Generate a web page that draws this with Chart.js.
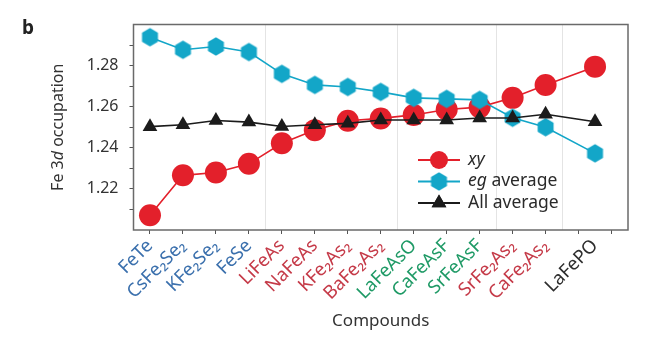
<!DOCTYPE html>
<html>
<head>
<meta charset="utf-8">
<script src="https://cdn.jsdelivr.net/npm/chart.js@4.4.1/dist/chart.umd.min.js"></script>
<style>
  html, body { margin: 0; padding: 0; background: #fff; }
  #wrap { width: 660px; height: 338px; position: relative; }
</style>
</head>
<body>
<div id="wrap"><canvas id="occChart"></canvas></div>
<script>
// compounds and where they sit on the x axis (LaFePO is set apart)
const compounds = ['FeTe', 'CsFe₂Se₂', 'KFe₂Se₂', 'FeSe', 'LiFeAs', 'NaFeAs', 'KFe₂As₂', 'BaFe₂As₂',
                   'LaFeAsO', 'CaFeAsF', 'SrFeAsF', 'SrFe₂As₂', 'CaFe₂As₂', 'LaFePO'];
const positions = [0, 1, 2, 3, 4, 5, 6, 7, 8, 9, 10, 11, 12, 13.5];
const groups = ['se', 'se', 'se', 'se', 'as', 'as', 'as', 'as', 'f', 'f', 'f', 'as', 'as', 'p'];

// Fe 3d occupation values
const xyValues  = [1.2072, 1.2266, 1.2280, 1.2322, 1.2422, 1.2486, 1.2532, 1.2543, 1.2560, 1.2586, 1.2598, 1.2643, 1.2706, 1.2795];
const egValues  = [1.2938, 1.2877, 1.2893, 1.2866, 1.2760, 1.2706, 1.2696, 1.2672, 1.2643, 1.2638, 1.2633, 1.2546, 1.2500, 1.2373];
const allValues = [1.2503, 1.2512, 1.2533, 1.2525, 1.2504, 1.2512, 1.2519, 1.2535, 1.2535, 1.2535, 1.2545, 1.2545, 1.2563, 1.2527];

// axis ticks
const xTicks = [0, 1, 2, 3, 4, 5, 6, 7, 8, 9, 10, 11, 12, 13, 14];
const separators = [3.5, 7.5, 10.5, 12.5];
const yTicks = [1.21, 1.22, 1.23, 1.24, 1.25, 1.26, 1.27, 1.28, 1.29];
const yLabels = ['1.22', '1.24', '1.26', '1.28'];

const groupColors = { se: '#3b70ad', as: '#c53a48', f: '#1f9a66', p: '#2e2e2e' };
const RED = '#e3202b', CYAN = '#13a6c8', BLACK = '#1b1b1b';
const FONT = '"Noto Sans", "DejaVu Sans", sans-serif';

function hexagon(r, color) {
  const c = document.createElement('canvas');
  const s = Math.ceil(r * 2) + 2;
  c.width = s; c.height = s;
  const g = c.getContext('2d');
  g.fillStyle = color;
  g.beginPath();
  for (let i = 0; i < 6; i++) {
    const a = Math.PI / 3 * i - Math.PI / 2;
    const px = s / 2 + r * Math.cos(a), py = s / 2 + r * Math.sin(a);
    i ? g.lineTo(px, py) : g.moveTo(px, py);
  }
  g.closePath();
  g.fill();
  return c;
}
const hexMark = hexagon(9.2, CYAN);

const toPoints = vals => vals.map((v, i) => ({ x: positions[i], y: v }));
const labelAt = v => {
  const i = positions.indexOf(v);
  return i >= 0 ? compounds[i] : '';
};
const allXTicks = [...new Set([...xTicks, ...separators, ...positions])].sort((a, b) => a - b);

// frame, axis titles, panel letter and the legend inside the plot
const decorations = {
  id: 'decorations',
  beforeDatasetsDraw(chart) {
    const { ctx, chartArea: a } = chart;
    ctx.save();
    ctx.strokeStyle = '#6a6a6a';
    ctx.lineWidth = 1.5;
    ctx.strokeRect(a.left, a.top, a.right - a.left, a.bottom - a.top);
    ctx.restore();
  },
  afterDraw(chart) {
    const { ctx, chartArea: a } = chart;
    ctx.save();
    ctx.fillStyle = '#222';
    ctx.font = 'bold 19px ' + FONT;
    ctx.textBaseline = 'alphabetic';
    ctx.fillText('b', 22, 34);

    // y title with italic d
    ctx.fillStyle = '#333';
    ctx.translate(58, (a.top + a.bottom) / 2);
    ctx.rotate(-Math.PI / 2);
    ctx.textBaseline = 'middle';
    const parts = [['Fe 3', 'normal'], ['d', 'italic'], [' occupation', 'normal']];
    let w = 0;
    parts.forEach(([t, s]) => { ctx.font = s + ' 16px ' + FONT; w += ctx.measureText(t).width; });
    let x = -w / 2;
    parts.forEach(([t, s]) => { ctx.font = s + ' 16px ' + FONT; ctx.fillText(t, x, 0); x += ctx.measureText(t).width; });
    ctx.restore();

    ctx.save();
    ctx.fillStyle = '#333';
    ctx.font = '17px ' + FONT;
    ctx.textAlign = 'center';
    ctx.textBaseline = 'middle';
    ctx.fillText('Compounds', (a.left + a.right) / 2, 321);
    ctx.restore();

    // legend
    const rows = [
      { ds: 0, text: [['xy', 'italic']] },
      { ds: 1, text: [['eg', 'italic'], [' average', 'normal']] },
      { ds: 2, text: [['All average', 'normal']] }
    ];
    ctx.save();
    rows.forEach((row, k) => {
      const ds = chart.data.datasets[row.ds];
      const y = 160 + k * 21.5;
      ctx.strokeStyle = ds.borderColor;
      ctx.lineWidth = 1.8;
      ctx.beginPath(); ctx.moveTo(418, y); ctx.lineTo(460, y); ctx.stroke();
      if (ds.pointStyle === 'circle') {
        ctx.fillStyle = ds.backgroundColor;
        ctx.beginPath(); ctx.arc(439, y, 9, 0, Math.PI * 2); ctx.fill();
      } else if (ds.pointStyle === 'triangle') {
        Chart.helpers.drawPoint(ctx, { pointStyle: 'triangle', radius: 8.5, borderWidth: 0 }, 439, y);
        ctx.fillStyle = ds.backgroundColor; ctx.fill();
      } else {
        ctx.drawImage(ds.pointStyle, 439 - ds.pointStyle.width / 2, y - ds.pointStyle.height / 2);
      }
      ctx.fillStyle = '#2a2a2a';
      ctx.textBaseline = 'middle';
      let tx = 468;
      row.text.forEach(([t, s]) => {
        ctx.font = s + ' 17.5px ' + FONT;
        ctx.fillText(t, tx, y);
        tx += ctx.measureText(t).width;
      });
    });
    ctx.restore();
  }
};

new Chart(document.getElementById('occChart'), {
  type: 'line',
  data: {
    datasets: [
      { label: 'xy', data: toPoints(xyValues), borderColor: RED, backgroundColor: RED,
        pointStyle: 'circle', pointRadius: 11, pointBorderWidth: 0, borderWidth: 1.6, order: 3 },
      { label: 'eg average', data: toPoints(egValues), borderColor: CYAN, backgroundColor: CYAN,
        pointStyle: hexMark, pointRadius: 9, borderWidth: 1.6, order: 2 },
      { label: 'All average', data: toPoints(allValues), borderColor: BLACK, backgroundColor: BLACK,
        pointStyle: 'triangle', pointRadius: 8.5, pointBorderWidth: 0, borderWidth: 1.6, order: 1 }
    ]
  },
  options: {
    responsive: true,
    maintainAspectRatio: false,
    animation: false,
    events: [],
    layout: { padding: { top: 24.5, right: 32, left: 0, bottom: 0 } },
    plugins: { legend: { display: false }, tooltip: { enabled: false } },
    scales: {
      x: {
        type: 'linear',
        min: -0.5,
        max: 14.5,
        afterBuildTicks: s => { s.ticks = allXTicks.map(v => ({ value: v })); },
        afterFit: s => { s.height = 108; },
        border: { display: false },
        grid: {
          drawOnChartArea: true,
          tickLength: 4,
          lineWidth: 1,
          color: c => separators.includes(c.tick && c.tick.value) ? '#e4e4e4' : 'rgba(0,0,0,0)',
          tickColor: c => xTicks.includes(c.tick && c.tick.value) ? '#555' : 'rgba(0,0,0,0)'
        },
        ticks: {
          autoSkip: false,
          minRotation: 45,
          maxRotation: 45,
          padding: 1,
          font: { family: FONT, size: 18.5 },
          color: c => {
            const i = positions.indexOf(c.tick.value);
            return i >= 0 ? groupColors[groups[i]] : '#333';
          },
          callback: v => labelAt(v)
        }
      },
      y: {
        min: 1.2,
        max: 1.3,
        afterBuildTicks: s => { s.ticks = yTicks.map(v => ({ value: v })); },
        afterFit: s => { s.width = 133.5; },
        border: { display: false },
        grid: { drawOnChartArea: false, tickLength: 4, tickColor: '#555' },
        ticks: {
          padding: 11,
          font: { family: FONT, size: 16 },
          color: '#333',
          callback: v => { const t = v.toFixed(2); return yLabels.includes(t) ? t : ''; }
        }
      }
    }
  },
  plugins: [decorations]
});
</script>
</body>
</html>
